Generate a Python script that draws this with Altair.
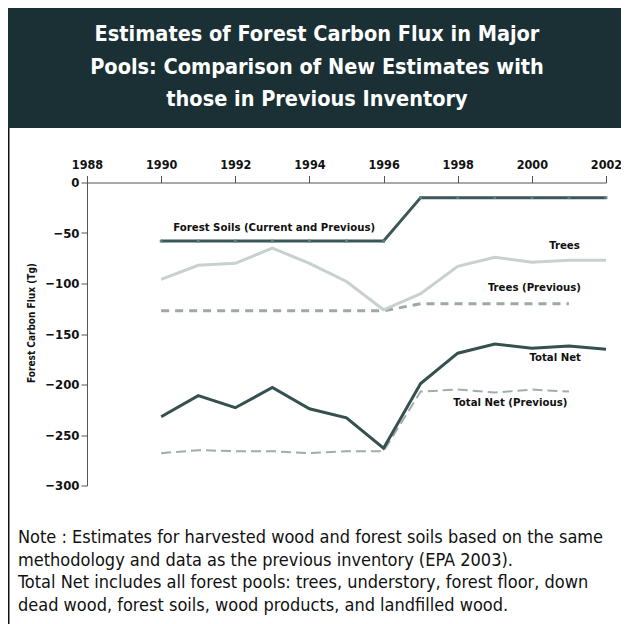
import altair as alt
import pandas as pd

# ---------------- data ----------------
years = [1990, 1991, 1992, 1993, 1994, 1995, 1996, 1997, 1998, 1999, 2000, 2001, 2002]
forest_soils = [-58, -58, -58, -58, -58, -58, -58, -15, -15, -15, -15, -15, -15]
trees = [-96, -82, -80, -65, -80, -98, -126, -110, -83, -74, -79, -77, -77]
total_net = [-232, -211, -223, -203, -224, -233, -263, -199, -169, -160, -164, -162, -165]

prev_years = [1990, 1991, 1992, 1993, 1994, 1995, 1996, 1997, 1998, 1999, 2000, 2001]
trees_prev = [-127, -127, -127, -127, -127, -127, -127, -120, -120, -120, -120, -120]
total_net_prev = [-268, -265, -266, -266, -268, -266, -266, -207, -205, -208, -205, -207]

x_ticks = [1988, 1990, 1992, 1994, 1996, 1998, 2000, 2002]
y_ticks = [0, -50, -100, -150, -200, -250, -300]

label_text = ["Forest Soils (Current and Previous)", "Trees", "Trees (Previous)",
              "Total Net", "Total Net (Previous)"]
label_year = [1993.05, 2000.88, 2000.07, 2000.63, 1999.42]
label_value = [-45.3, -62.9, -104.8, -173.5, -218.6]

title_lines = ["Estimates of Forest Carbon Flux in Major",
               "Pools: Comparison of New Estimates with",
               "those in Previous Inventory"]
note_lines = ["Note : Estimates for harvested wood and forest soils based on the same",
              "methodology and data as the previous inventory (EPA 2003).",
              "Total Net includes all forest pools: trees, understory, forest floor, down",
              "dead wood, forest soils, wood products, and landfilled wood."]

# ---------------- tables ----------------
rows = []
for name, yrs, vals in [("Forest Soils", years, forest_soils), ("Trees", years, trees),
                        ("Total Net", years, total_net), ("Trees Prev", prev_years, trees_prev),
                        ("Total Net Prev", prev_years, total_net_prev)]:
    for yr, v in zip(yrs, vals):
        rows.append({"series": name, "year": yr, "value": v})
df = pd.DataFrame(rows)
labels_df = pd.DataFrame({"year": label_year, "value": label_value, "text": label_text})
one = pd.DataFrame({"a": [0]})

FONT = "DejaVu Sans Condensed, Liberation Sans Narrow, DejaVu Sans, sans-serif"
W, H = 519, 303
PAD_L, PAD_T, PAD_R = 79, 174.5, 15

x_enc = alt.X("year:Q", scale=alt.Scale(domain=[1988, 2002], nice=False, zero=False),
              axis=alt.Axis(orient="top", values=x_ticks, format="d", title=None, grid=False,
                            labelFont=FONT, labelFontSize=12.5, labelFontWeight="bold",
                            labelColor="#111", tickSize=7, tickColor="#555", domainColor="#555",
                            labelPadding=4, labelFlush=False))
y_enc = alt.Y("value:Q", scale=alt.Scale(domain=[-300, 0], nice=False, zero=False),
              axis=alt.Axis(values=y_ticks, title="Forest Carbon Flux (Tg)", grid=False,
                            labelFont=FONT, labelFontSize=13, labelFontWeight="bold",
                            labelColor="#111", tickSize=6, tickColor="#555", domainColor="#555",
                            labelPadding=2, titleFont=FONT, titleFontSize=10,
                            titleFontWeight="bold", titleColor="#111", titleX=-56, titleY=140,
                            titleAngle=270, titleAlign="center", titleBaseline="middle"))

base = alt.Chart(df).encode(x=x_enc, y=y_enc)


def series_line(name, color, width, dash=None):
    kw = dict(color=color, strokeWidth=width, strokeCap="butt", strokeJoin="miter")
    if dash:
        kw["strokeDash"] = dash
    return base.transform_filter(alt.datum.series == name).mark_line(**kw)


trees_prev_l = series_line("Trees Prev", "#9ea8a9", 3, [8, 6])
total_prev_l = series_line("Total Net Prev", "#a3acac", 2, [10, 5])
trees_l = series_line("Trees", "#c8d1cf", 3)
soils_l = series_line("Forest Soils", "#3b5759", 3)
soils_pts = base.transform_filter(alt.datum.series == "Forest Soils").mark_point(
    shape="square", filled=True, size=8, color="#5e8081", opacity=1)
total_l = series_line("Total Net", "#34504f", 3)

labels = alt.Chart(labels_df).mark_text(
    font=FONT, fontSize=11.3, fontWeight="bold", color="#111", align="center", baseline="middle"
).encode(x=alt.X("year:Q"), y=alt.Y("value:Q"), text="text:N")

header = alt.Chart(one).mark_rect(color="#1a3035").encode(
    x=alt.value(-PAD_L), x2=alt.value(W + PAD_R), y=alt.value(-PAD_T), y2=alt.value(128 - 182.5))
title = alt.Chart(one).mark_text(
    font=FONT, fontSize=21.5, fontWeight="bold", color="white", align="center",
    baseline="middle", lineHeight=32.5
).encode(x=alt.value(317 - 87), y=alt.value(35 - 182.5), text=alt.value(title_lines))
border = alt.Chart(one).mark_rule(color="#111", strokeWidth=1.5).encode(
    x=alt.value(-PAD_L + 0.75), y=alt.value(128 - 182.5), y2=alt.value(624 - 182.5))
note = alt.Chart(one).mark_text(
    font=FONT, fontSize=18, color="#111", align="left", baseline="middle", lineHeight=22.7
).encode(x=alt.value(18 - 87), y=alt.value(538 - 182.5), text=alt.value(note_lines))

chart = alt.layer(
    header, title, border, note,
    trees_prev_l, total_prev_l, trees_l, soils_l, soils_pts, total_l, labels
).properties(
    width=W, height=H,
    autosize=alt.AutoSizeParams(type="none"),
    padding={"left": PAD_L, "top": PAD_T, "right": PAD_R, "bottom": 138.5},
).configure_view(stroke=None)

chart.save("out.html", embed_options={"renderer": "svg", "actions": False})
